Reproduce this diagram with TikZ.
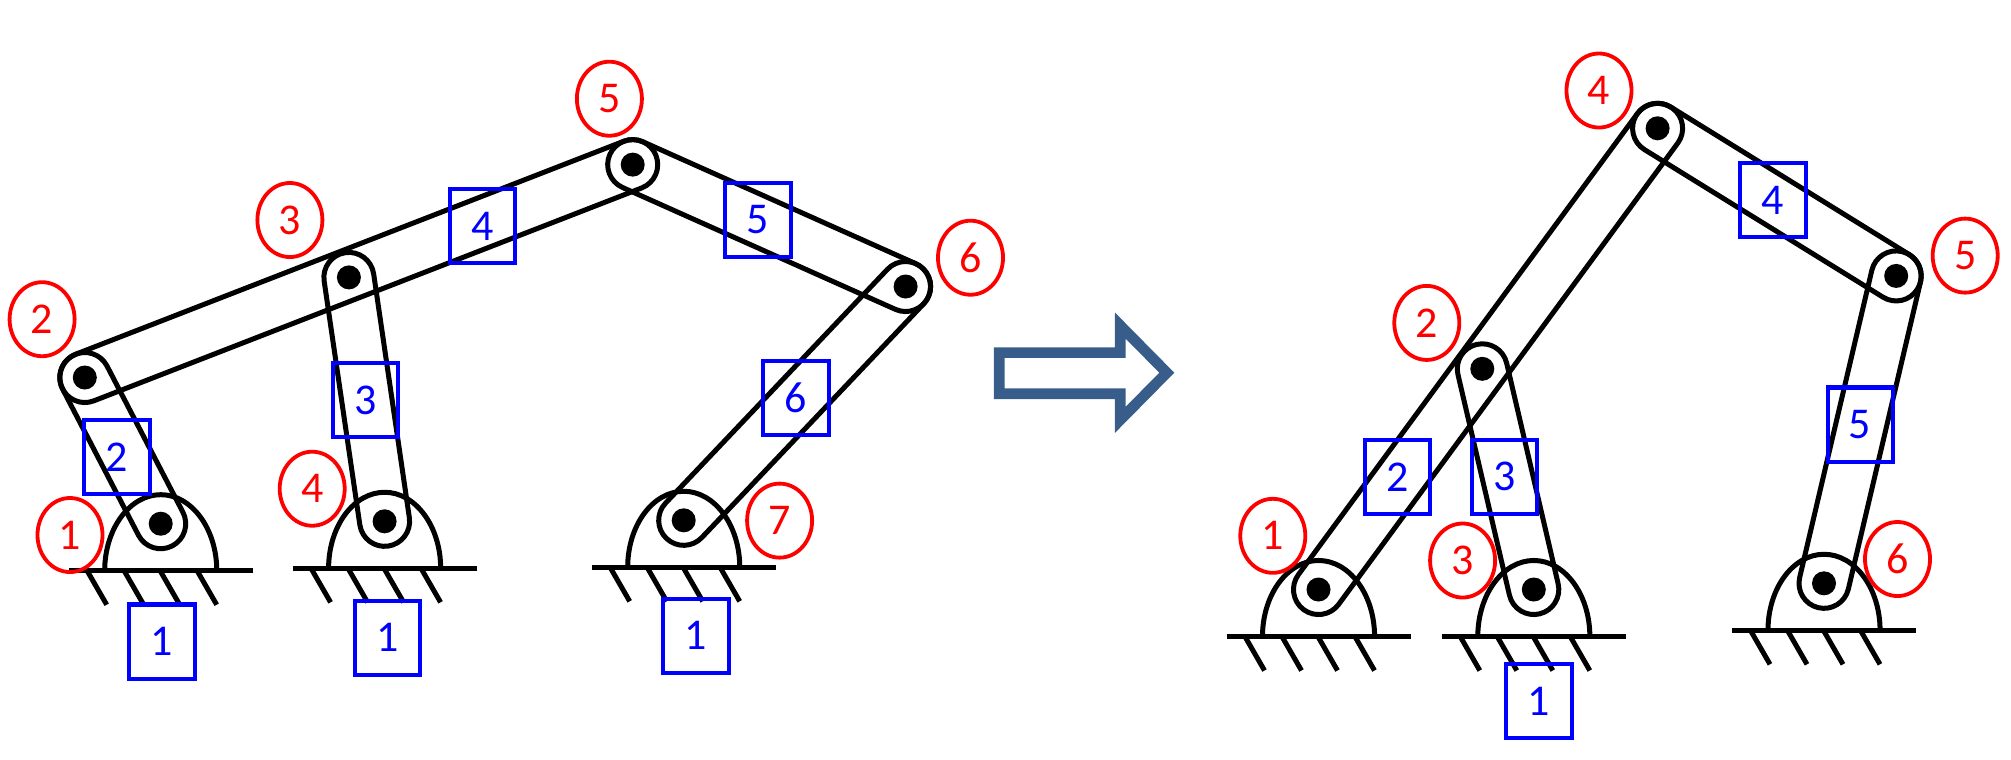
\documentclass[tikz,border=0pt]{standalone}
\usepackage{fontspec}
\setmainfont{Carlito}
\usetikzlibrary{calc,shapes.geometric}
\definecolor{arrowblue}{RGB}{56,93,138}
\tikzset{
  bar/.style={line width=0.5mm, line join=round},
  jointnum/.style={ellipse, draw=red, text=red, line width=0.38mm, minimum width=6.5mm, minimum height=7.4mm, inner sep=0pt, font=\fontsize{12.5}{15}\selectfont},
  linknum/.style={rectangle, draw=blue, text=blue, line width=0.4mm, minimum width=6.5mm, minimum height=7.4mm, inner sep=0pt, font=\fontsize{12.5}{15}\selectfont}
}
\begin{document}
\begin{tikzpicture}[x=0.01cm, y=-0.01cm]
    \useasboundingbox (0,0) rectangle (2011,759);

    \def\rr{2.5mm}
    \def\linkbar#1#2{\draw[bar] let \p1=($(#2)-(#1)$), \n1={atan2(\y1,\x1)} in
      ($(#1)+(\n1+90:\rr)$) -- ($(#2)+(\n1+90:\rr)$) arc[start angle=\n1+90, delta angle=-180, radius=\rr]
      -- ($(#1)+(\n1-90:\rr)$) arc[start angle=\n1-90, delta angle=-180, radius=\rr] -- cycle;}
    \def\ground#1{
      \draw[bar] ($(#1)+(-56,47)$) arc[start angle=180, end angle=0, x radius=5.6mm, y radius=7.6mm];
      \draw[bar] ($(#1)+(-92,47)$) -- ($(#1)+(92,47)$);
      \foreach \dx in {-73,-36,0,37} \draw[bar] ($(#1)+(\dx,48)$) -- ++(19,33);
    }

    % joints, left
    \coordinate (L1) at (160.7,523.7);
    \coordinate (L2) at (84.8,377.5);
    \coordinate (L3) at (348.9,277.4);
    \coordinate (L4) at (384.6,521.3);
    \coordinate (L5) at (632.7,164.6);
    \coordinate (L6) at (905.6,286.5);
    \coordinate (L7) at (683.7,520.3);
    % joints, right
    \coordinate (R1) at (1318.5,589.5);
    \coordinate (R2) at (1482.3,368.8);
    \coordinate (R3) at (1533.8,589.5);
    \coordinate (R4) at (1657.6,128.3);
    \coordinate (R5) at (1896.2,275.9);
    \coordinate (R6) at (1824,583.3);

    \foreach \g in {L1,L4,L7,R1,R3,R6} \ground{\g};

    \linkbar{L1}{L2} \linkbar{L4}{L3} \linkbar{L2}{L5} \linkbar{L5}{L6} \linkbar{L7}{L6}
    \linkbar{R1}{R4} \linkbar{R2}{R3} \linkbar{R4}{R5} \linkbar{R5}{R6}

    \foreach \j in {L1,L2,L3,L4,L5,L6,L7,R1,R2,R3,R4,R5,R6} \fill (\j) circle[radius=1.2mm];

    % joint numbers
    \foreach \n/\p in {1/{70,535}, 2/{42.1,319.2}, 3/{289.9,220}, 4/{312.2,488.7}, 5/{609.4,98.7}, 6/{970.5,257.7}, 7/{779.6,520.6}}
      \node[jointnum] (lj\n) at (\p) {\n};
    \foreach \n/\p in {1/{1272.8,535.8}, 2/{1426.8,322.9}, 3/{1462.6,560.5}, 4/{1599,90.5}, 5/{1965.2,255.6}, 6/{1897.5,559}}
      \node[jointnum] (rj\n) at (\p) {\n};

    % link numbers
    \node[linknum] (lk1a) at (162,641.5) {1};
    \node[linknum] (lk1b) at (387.5,637.7) {1};
    \node[linknum] (lk1c) at (696,635.8) {1};
    \foreach \n/\p in {2/{117,457.4}, 3/{365.8,400.3}, 4/{482.5,226}, 5/{758,220}, 6/{796,397.9}}
      \node[linknum] (lk\n) at (\p) {\n};
    \foreach \n/\p in {1/{1539,701}, 2/{1397.8,476.8}, 3/{1504.8,476.8}, 4/{1773,199.9}, 5/{1860.1,424.5}}
      \node[linknum] (rk\n) at (\p) {\n};

    % hollow arrow
    \draw[arrowblue, line width=1.07mm, line join=miter] (999.3,352.6) -- (1120.3,352.6) -- (1120.3,325.6) -- (1166.8,372.7)
      -- (1120.3,419.8) -- (1120.3,393.7) -- (999.3,393.7) -- cycle;
  \end{tikzpicture}
\end{document}
